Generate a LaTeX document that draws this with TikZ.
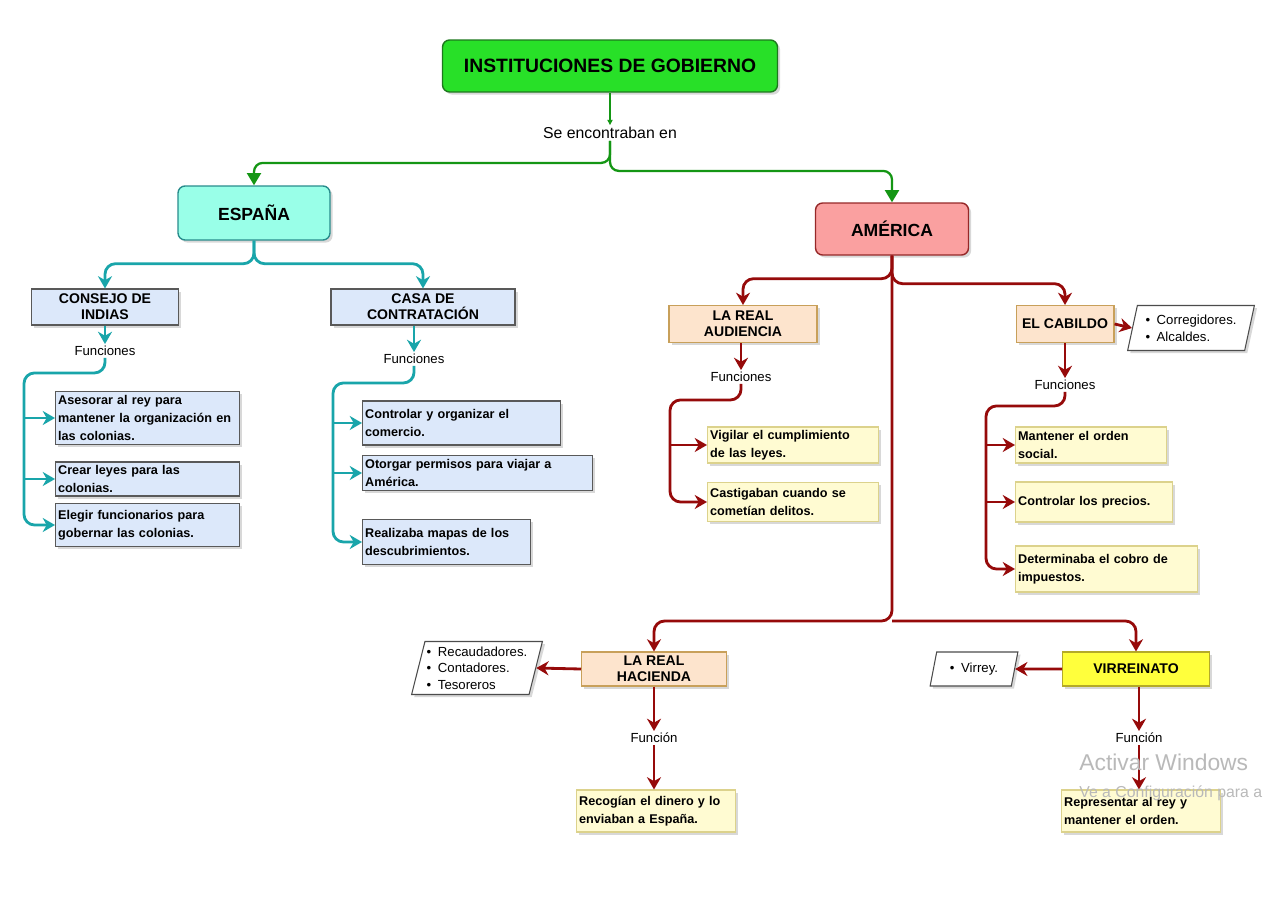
\documentclass[tikz,border=0pt]{standalone}
\usepackage{fontspec}
\setmainfont{Liberation Sans}
\usetikzlibrary{shapes.geometric, arrows.meta, calc, shadows}

\definecolor{titgreen}{RGB}{40,224,40}
\definecolor{titline}{RGB}{30,120,30}
\definecolor{espfill}{RGB}{153,255,232}
\definecolor{espline}{RGB}{40,140,140}
\definecolor{amfill}{RGB}{250,160,160}
\definecolor{amline}{RGB}{150,40,40}
\definecolor{subblue}{RGB}{220,232,250}
\definecolor{peach}{RGB}{253,228,205}
\definecolor{peachline}{RGB}{200,160,90}
\definecolor{lyellow}{RGB}{255,251,210}
\definecolor{yline}{RGB}{220,210,140}
\definecolor{virfill}{RGB}{255,255,60}
\definecolor{virline}{RGB}{180,170,40}
\definecolor{lgreen}{RGB}{20,150,20}
\definecolor{lteal}{RGB}{25,165,170}
\definecolor{lred}{RGB}{150,10,10}

\begin{document}
\begin{tikzpicture}[x=0.02cm, y=-0.02cm,
    gline/.style={draw=lgreen, line width=1.3pt, rounded corners=5pt, -{Triangle[length=7pt,width=8pt]}},
    tline/.style={draw=lteal, line width=1.6pt, rounded corners=6pt, -{Stealth[length=7pt,width=8pt]}},
    rline/.style={draw=lred, line width=1.6pt, rounded corners=6pt, -{Stealth[length=7pt,width=8pt]}},
    shade/.style={drop shadow={shadow xshift=1.5pt, shadow yshift=-1.5pt, opacity=0.3}},
    headbox/.style={rounded corners=4pt, line width=0.8pt, shade, font=\bfseries\fontsize{10}{12}\selectfont},
    subbox/.style={draw=gray!70!black, fill=subblue, line width=0.6pt, align=center, inner sep=0pt, shade, font=\bfseries\fontsize{8}{9}\selectfont},
    peachbox/.style={subbox, draw=peachline, fill=peach},
    leafbox/.style={draw=gray!70!black, fill=subblue, line width=0.6pt, anchor=west, align=left, inner sep=1.5pt, shade, font=\bfseries\fontsize{7.2}{10}\selectfont},
    yleaf/.style={leafbox, draw=yline, fill=lyellow},
    fun/.style={inner sep=1pt, font=\fontsize{7.5}{9}\selectfont},
    listbox/.style={trapezium, trapezium left angle=74, trapezium right angle=106, trapezium stretches=true,
        draw=gray!60!black, fill=white, line width=0.6pt, shade, align=left, inner sep=1pt, font=\fontsize{7.5}{9.5}\selectfont},
    wmark/.style={text=gray!55, inner sep=0pt, anchor=west}
]
    % Page
    \useasboundingbox (0,0) rectangle (1280,905);
    \fill[white] (0,0) rectangle (1280,905);

    % Top
    \node[headbox, draw=titline, fill=titgreen, minimum width=6.7cm, minimum height=1.04cm,
        font=\bfseries\fontsize{11}{13}\selectfont] (tit) at (610,66) {INSTITUCIONES DE GOBIERNO};
    \node[fun, font=\fontsize{9}{11}\selectfont] (se) at (610,133) {Se encontraban en};
    \draw[draw=lgreen, line width=0.7pt, -{Triangle[length=3pt,width=3pt]}] (tit.south) -- (se.north);

    \node[headbox, draw=espline, fill=espfill, minimum width=3.04cm, minimum height=1.08cm] (esp) at (254,213) {ESPAÑA};
    \node[headbox, draw=amline, fill=amfill, minimum width=3.06cm, minimum height=1.04cm] (am) at (892,229) {AMÉRICA};
    \draw[gline] (se.south) -- ++(0,22) -| (esp.north);
    \draw[gline] (se.south) -- ++(0,30) -| (am.north);

    % España
    \node[subbox, minimum width=2.94cm, minimum height=0.72cm] (cons) at (105,307) {CONSEJO DE\\INDIAS};
    \node[subbox, minimum width=3.68cm, minimum height=0.72cm] (casa) at (423,307) {CASA DE\\CONTRATACIÓN};
    \draw[tline] (esp.south) -- ++(0,23) -| (cons.north);
    \draw[tline] (esp.south) -- ++(0,23) -| (casa.north);

    \node[fun] (fcons) at (105,351) {Funciones};
    \node[fun] (fcasa) at (414,359) {Funciones};
    \draw[tline] (cons.south) -- (fcons.north);
    \draw[tline] (casa.south -| fcasa.north) -- (fcasa.north);

    \node[leafbox, text width=3.58cm, minimum height=1.06cm] (con1) at (55,418) {Asesorar al rey para\\mantener la organización en\\las colonias.};
    \node[leafbox, text width=3.58cm, minimum height=0.68cm] (con2) at (55,479) {Crear leyes para las\\colonias.};
    \node[leafbox, text width=3.58cm, minimum height=0.86cm] (con3) at (55,525) {Elegir funcionarios para\\gobernar las colonias.};
    \coordinate (tk1) at (24,0);
    \draw[tline] (fcons.south) -- ++(0,15) -| (con3.west -| tk1) -- (con3.west);
    \foreach \b in {con1,con2} \draw[tline] (\b.west -| tk1) -- (\b.west);

    \node[leafbox, text width=3.86cm, minimum height=0.88cm] (cas1) at (362,423) {Controlar y organizar el\\comercio.};
    \node[leafbox, text width=4.5cm, minimum height=0.7cm] (cas2) at (362,473) {Otorgar permisos para viajar a\\América.};
    \node[leafbox, text width=3.26cm, minimum height=0.9cm] (cas3) at (362,542) {Realizaba mapas de los\\descubrimientos.};
    \coordinate (tk2) at (333,0);
    \draw[tline] (fcasa.south) -- ++(0,17) -| (cas3.west -| tk2) -- (cas3.west);
    \foreach \b in {cas1,cas2} \draw[tline] (\b.west -| tk2) -- (\b.west);

    % América
    \node[peachbox, minimum width=2.96cm, minimum height=0.74cm] (aud) at (743,324) {LA REAL\\AUDIENCIA};
    \node[peachbox, minimum width=1.96cm, minimum height=0.74cm] (cab) at (1065,324) {EL CABILDO};
    \node[peachbox, minimum width=2.9cm, minimum height=0.68cm] (hac) at (654,669) {LA REAL\\HACIENDA};
    \node[peachbox, draw=virline, fill=virfill, minimum width=2.94cm, minimum height=0.68cm] (vir) at (1136,669) {VIRREINATO};
    \coordinate (amb) at (892,621);
    \draw[rline] (am.south) -- ++(0,23) -| (aud.north);
    \draw[rline] (am.south) -- ++(0,28) -| (cab.north);
    \draw[rline] (am.south) -- (amb) -| (hac.north);
    \draw[rline] (amb) -| (vir.north);

    % Real Audiencia
    \node[fun] (faud) at (741,377) {Funciones};
    \draw[rline] (aud.south -| faud.north) -- (faud.north);
    \node[yleaf, text width=3.32cm, minimum height=0.72cm] (aud1) at (707,445) {Vigilar el cumplimiento\\de las leyes.};
    \node[yleaf, text width=3.32cm, minimum height=0.78cm] (aud2) at (707,502) {Castigaban cuando se\\cometían delitos.};
    \coordinate (tk3) at (670,0);
    \draw[rline] (faud.south) -- ++(0,16) -| (aud2.west -| tk3) -- (aud2.west);
    \draw[rline] (aud1.west -| tk3) -- (aud1.west);

    % Cabildo
    \node[listbox, minimum width=2.54cm, minimum height=0.9cm] (lcab) at (1191,328) {\textbullet\enspace Corregidores.\\\textbullet\enspace Alcaldes.};
    \draw[rline] (cab.east) -- (lcab.west);
    \node[fun] (fcab) at (1065,385) {Funciones};
    \draw[rline] (cab.south) -- (fcab.north);
    \node[yleaf, text width=2.92cm, minimum height=0.72cm] (cab1) at (1015,445) {Mantener el orden\\social.};
    \node[yleaf, text width=3.04cm, minimum height=0.8cm] (cab2) at (1015,502) {Controlar los precios.};
    \node[yleaf, text width=3.54cm, minimum height=0.92cm] (cab3) at (1015,569) {Determinaba el cobro de\\impuestos.};
    \coordinate (tk4) at (986,0);
    \draw[rline] (fcab.south) -- ++(0,14) -| (cab3.west -| tk4) -- (cab3.west);
    \foreach \b in {cab1,cab2} \draw[rline] (\b.west -| tk4) -- (\b.west);

    % Real Hacienda
    \node[listbox, minimum width=2.5cm, minimum height=1.06cm] (lhac) at (477,668) {\textbullet\enspace Recaudadores.\\\textbullet\enspace Contadores.\\\textbullet\enspace Tesoreros};
    \draw[rline] (hac.west) -- (lhac.east);
    \node[fun] (fhac) at (654,738) {Función};
    \draw[rline] (hac.south) -- (fhac.north);
    \node[yleaf, text width=3.08cm, minimum height=0.84cm] (hac1) at (576,811) {Recogían el dinero y lo\\enviaban a España.};
    \draw[rline] (fhac.south) -- (fhac.south |- hac1.north);

    % Virreinato
    \node[listbox, minimum width=1.76cm, minimum height=0.68cm] (lvir) at (974,669) {\textbullet\enspace Virrey.};
    \draw[rline] (vir.west) -- (lvir.east);
    \node[fun] (fvir) at (1139,738) {Función};
    \draw[rline] (vir.south -| fvir.north) -- (fvir.north);
    \node[yleaf, text width=3.08cm, minimum height=0.84cm] (vir1) at (1061,811) {Representar al rey y\\mantener el orden.};
    \draw[rline] (fvir.south) -- (fvir.south |- vir1.north);

    % Watermark
    \node[wmark, font=\fontsize{13}{15}\selectfont] (wm1) at (1079,762) {Activar Windows};
    \node[wmark, font=\fontsize{9}{11}\selectfont] (wm2) at (1079,793) {Ve a Configuración para a};
\end{tikzpicture}
\end{document}
